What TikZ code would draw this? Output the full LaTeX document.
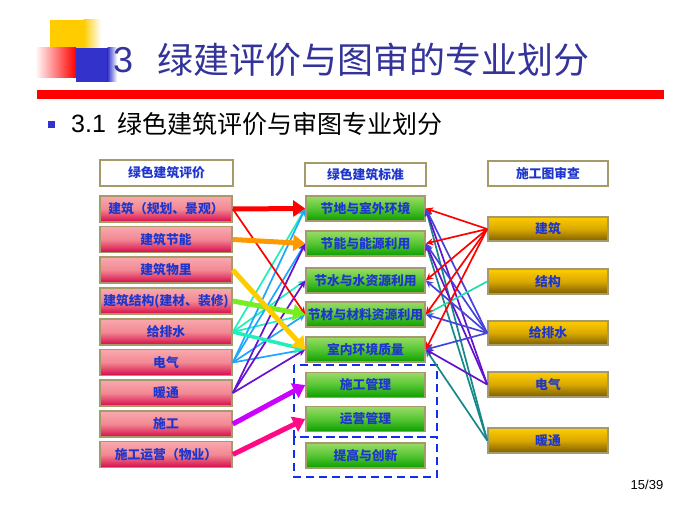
\documentclass[tikz,border=0pt]{standalone}
\usepackage{fontspec}
\setmainfont{Liberation Sans}
\newfontfamily\cjk{Noto Sans CJK SC}
\usetikzlibrary{arrows.meta}
\definecolor{bordc}{HTML}{A59B6A}
\definecolor{txtc}{HTML}{1E36CC}
\definecolor{titc}{HTML}{333399}
\definecolor{ycol}{HTML}{FFCC00}
\definecolor{bcol}{HTML}{3333CC}
\definecolor{pinkt}{HTML}{F9A9AE}
\definecolor{pinkm}{HTML}{F28893}
\definecolor{pinkb}{HTML}{D6084A}
\definecolor{grnt}{HTML}{9ADB66}
\definecolor{grnm}{HTML}{55C633}
\definecolor{grnb}{HTML}{0C9E00}
\definecolor{goldt}{HTML}{FFCC00}
\definecolor{goldm}{HTML}{D9A800}
\definecolor{goldb}{HTML}{7D5E00}
\definecolor{cRed}{HTML}{FF0000}
\definecolor{cOrange}{HTML}{FF9900}
\definecolor{cGold}{HTML}{FFCC00}
\definecolor{cLime}{HTML}{77EE22}
\definecolor{cAqua}{HTML}{22EEBB}
\definecolor{cSky}{HTML}{1EA5FF}
\definecolor{cPurple}{HTML}{6611CC}
\definecolor{cViolet}{HTML}{CC00FF}
\definecolor{cPink}{HTML}{FF0A85}
\definecolor{cAqua2}{HTML}{22DDAA}
\definecolor{cBlueV}{HTML}{4444DD}
\definecolor{cTeal}{HTML}{168888}
\definecolor{dashc}{HTML}{1030EE}
\begin{document}
\begin{tikzpicture}[x=1pt,y=-1pt,
  bd/.style={draw=bordc,line width=1.6pt,inner sep=0pt,
    font=\cjk\bfseries\fontsize{12.8}{14}\selectfont,text=txtc},
  hdr/.style={bd,fill=white},
  lbox/.style={bd,minimum width=132pt,minimum height=26pt,
    top color=pinkt,bottom color=pinkb,middle color=pinkm},
  mbox/.style={bd,minimum width=119pt,minimum height=25pt,
    top color=grnt,bottom color=grnb,middle color=grnm},
  rbox/.style={bd,minimum width=120pt,minimum height=24.5pt,
    top color=goldt,bottom color=goldb,middle color=goldm},
  thin/.style={line width=1.7pt,-{Stealth[length=7.5pt,width=7pt]}},
  thick/.style={line width=5pt,-{Triangle[length=12pt,width=16pt]}},
  mid/.style={line width=3.5pt,-{Triangle[length=10pt,width=12pt]}},
  grp/.style={draw=dashc,line width=1.8pt,dash pattern=on 8pt off 5pt}]
\useasboundingbox (0,0) rectangle (699,521);
% decoration
\fill[ycol] (50,20) rectangle (84,48);
\shade[left color=ycol,right color=white] (83.5,20) rectangle (101,48);
\shade[left color=white,right color=red] (35,48) rectangle (76,78);
\fill[bcol] (76,48) rectangle (108,82);
\shade[left color=bcol,right color=white] (107.5,48) rectangle (117,82);
\fill[red] (37,90) rectangle (664,99);
% titles
\node[anchor=west,inner sep=0pt,text=titc,font=\fontsize{36}{40}\selectfont] (t3) at (113,60) {3};
\node[anchor=west,inner sep=0pt,text=titc,font=\cjk\fontsize{36}{40}\selectfont] (title) at (157,60) {绿建评价与图审的专业划分};
\fill[bcol] (48,121.5) rectangle (55,128.5);
\node[anchor=west,inner sep=0pt,font=\fontsize{25}{28}\selectfont] (s31) at (71,124) {3.1};
\node[anchor=west,inner sep=0pt,font=\cjk\fontsize{25}{28}\selectfont] (sub) at (117,124) {绿色建筑评价与审图专业划分};
\node[font=\fontsize{13}{15}\selectfont] (pg) at (647,485) {15/39};
% headers
\node[hdr,minimum width=133pt,minimum height=26pt] (HL) at (166.5,173) {绿色建筑评价};
\node[hdr,minimum width=121pt,minimum height=23pt] (HM) at (365.5,174.5) {绿色建筑标准};
\node[hdr,minimum width=120pt,minimum height=25pt] (HR) at (548,173.5) {施工图审查};
% left
\node[lbox] (L1) at (166,209) {建筑（规划、景观）};
\node[lbox] (L2) at (166,239.5) {建筑节能};
\node[lbox] (L3) at (166,270) {建筑物里};
\node[lbox] (L4) at (166,301) {建筑结构(建材、装修)};
\node[lbox] (L5) at (166,332) {给排水};
\node[lbox] (L6) at (166,362.5) {电气};
\node[lbox] (L7) at (166,393) {暖通};
\node[lbox] (L8) at (166,424) {施工};
\node[lbox] (L9) at (166,454.5) {施工运营（物业）};
% middle
\node[mbox] (M1) at (365.5,208.5) {节地与室外环境};
\node[mbox] (M2) at (365.5,243.5) {节能与能源利用};
\node[mbox] (M3) at (365.5,280.5) {节水与水资源利用};
\node[mbox] (M4) at (365.5,314.5) {节材与材料资源利用};
\node[mbox] (M5) at (365.5,349.5) {室内环境质量};
\node[mbox] (M6) at (365.5,385) {施工管理};
\node[mbox] (M7) at (365.5,419) {运营管理};
\node[mbox] (M8) at (365.5,455.5) {提高与创新};
% right
\node[rbox] (R1) at (548,229) {建筑};
\node[rbox] (R2) at (548,281.5) {结构};
\node[rbox] (R3) at (548,333) {给排水};
\node[rbox] (R4) at (548,384.5) {电气};
\node[rbox] (R5) at (548,440.5) {暖通};
% dashed groups
\draw[grp] (294,365) rectangle (437,437);
\draw[grp] (294,437) rectangle (437,477);
% thin left connectors
\foreach \m in {M1,M3,M4} \draw[thin,cAqua] (L5.east) -- (\m.west);
\foreach \m in {M1,M2,M4,M5} \draw[thin,cSky] (L6.east) -- (\m.west);
\foreach \m in {M2,M3,M5} \draw[thin,cPurple] (L7.east) -- (\m.west);
\draw[thin,cRed] (L1.east) -- (M4.west);
% thick left connectors
\draw[mid,cAqua] (L5.east) -- (M5.west);
\draw[thick,cRed] (L1.east) -- (M1.west);
\draw[thick,cOrange] (L2.east) -- (M2.west);
\draw[thick,cLime] (L4.east) -- (M4.west);
\draw[thick,cGold] (L3.east) -- (M5.west);
\draw[thick,cViolet] (L8.east) -- (M6.west);
\draw[thick,cPink] (L9.east) -- (M7.west);
% right connectors
\foreach \m in {M1,M2,M5} \draw[thin,cTeal] (R5.west) -- (\m.east);
\foreach \m in {M1,M2,M5} \draw[thin,cPurple] (R4.west) -- (\m.east);
\foreach \m in {M1,M2,M3,M4,M5} \draw[thin,cBlueV] (R3.west) -- (\m.east);
\draw[thin,cAqua2] (R2.west) -- (M4.east);
\foreach \m in {M1,M2,M3,M4,M5} \draw[thin,cRed] (R1.west) -- (\m.east);
\end{tikzpicture}
\end{document}
